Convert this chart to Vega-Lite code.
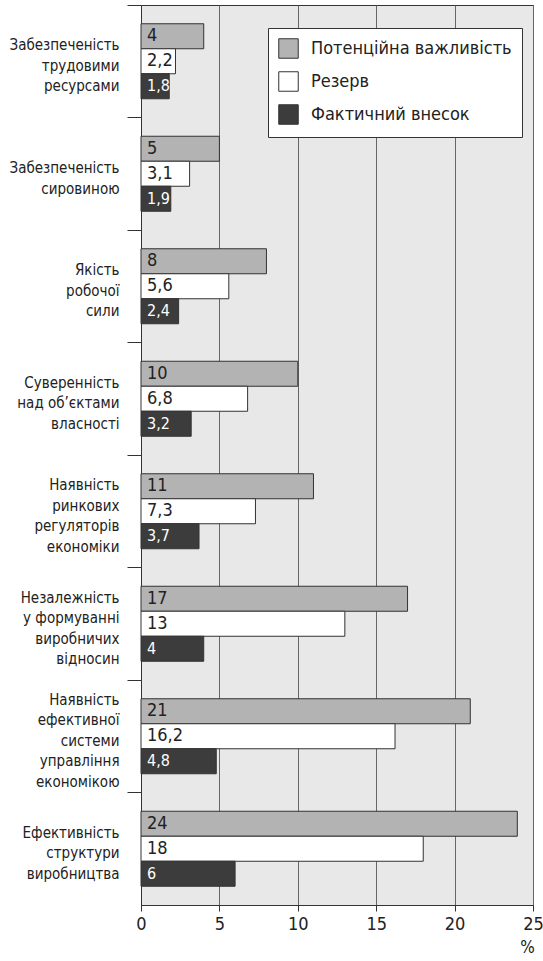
{
  "$schema": "https://vega.github.io/schema/vega-lite/v6.json",
  "width": 392,
  "height": 900,
  "autosize": {"type": "none"},
  "padding": {"left": 141, "top": 5, "right": 10, "bottom": 56},
  "background": "white",
  "config": {
    "font": "Liberation Sans Narrow, DejaVu Sans Condensed, Open Sans",
    "locale": {"number": {"decimal": ",", "thousands": " ", "grouping": [3], "currency": ["", ""]}},
    "view": {"fill": "#e8e8e8", "stroke": "#333", "strokeWidth": 1}
  },
  "data": {
    "values": [
      {"c": "Забезпеченість|трудовими|ресурсами", "s": "Потенційна важливість", "v": 4},
      {"c": "Забезпеченість|трудовими|ресурсами", "s": "Резерв", "v": 2.2},
      {"c": "Забезпеченість|трудовими|ресурсами", "s": "Фактичний внесок", "v": 1.8},
      {"c": "Забезпеченість|сировиною", "s": "Потенційна важливість", "v": 5},
      {"c": "Забезпеченість|сировиною", "s": "Резерв", "v": 3.1},
      {"c": "Забезпеченість|сировиною", "s": "Фактичний внесок", "v": 1.9},
      {"c": "Якість|робочої|сили", "s": "Потенційна важливість", "v": 8},
      {"c": "Якість|робочої|сили", "s": "Резерв", "v": 5.6},
      {"c": "Якість|робочої|сили", "s": "Фактичний внесок", "v": 2.4},
      {"c": "Суверенність|над об’єктами|власності", "s": "Потенційна важливість", "v": 10},
      {"c": "Суверенність|над об’єктами|власності", "s": "Резерв", "v": 6.8},
      {"c": "Суверенність|над об’єктами|власності", "s": "Фактичний внесок", "v": 3.2},
      {"c": "Наявність|ринкових|регуляторів|економіки", "s": "Потенційна важливість", "v": 11},
      {"c": "Наявність|ринкових|регуляторів|економіки", "s": "Резерв", "v": 7.3},
      {"c": "Наявність|ринкових|регуляторів|економіки", "s": "Фактичний внесок", "v": 3.7},
      {"c": "Незалежність|у формуванні|виробничих|відносин", "s": "Потенційна важливість", "v": 17},
      {"c": "Незалежність|у формуванні|виробничих|відносин", "s": "Резерв", "v": 13},
      {"c": "Незалежність|у формуванні|виробничих|відносин", "s": "Фактичний внесок", "v": 4},
      {"c": "Наявність|ефективної|системи|управління|економікою", "s": "Потенційна важливість", "v": 21},
      {"c": "Наявність|ефективної|системи|управління|економікою", "s": "Резерв", "v": 16.2},
      {"c": "Наявність|ефективної|системи|управління|економікою", "s": "Фактичний внесок", "v": 4.8},
      {"c": "Ефективність|структури|виробництва", "s": "Потенційна важливість", "v": 24},
      {"c": "Ефективність|структури|виробництва", "s": "Резерв", "v": 18},
      {"c": "Ефективність|структури|виробництва", "s": "Фактичний внесок", "v": 6}
    ]
  },
  "encoding": {
    "y": {
      "field": "c", "type": "nominal", "sort": null,
      "scale": {"paddingInner": 0, "paddingOuter": 0},
      "axis": {
        "title": null,
        "labelExpr": "split(datum.label, '|')",
        "labelFontSize": 15,
        "labelColor": "#222",
        "labelLineHeight": 20.5,
        "labelPadding": 8,
        "labelOffset": {"expr": "4.5 - (length(split(datum.label, '|')) - 1) * 10.25"},
        "tickSize": 14,
        "tickColor": "#333",
        "domainColor": "#333",
        "bandPosition": 0,
        "labelAlign": "right",
        "labelBaseline": "middle"
      }
    },
    "yOffset": {
      "field": "s", "type": "nominal",
      "sort": ["Потенційна важливість", "Резерв", "Фактичний внесок"],
      "scale": {"paddingInner": 0, "paddingOuter": 0.75}
    }
  },
  "layer": [
    {
      "mark": {"type": "bar", "stroke": "#333", "strokeWidth": 1},
      "encoding": {
        "x": {
          "field": "v", "type": "quantitative",
          "scale": {"domain": [0, 25], "nice": false},
          "axis": {
            "title": "%",
            "titleFontSize": 17,
            "titleFontWeight": "normal",
            "titleColor": "#222",
            "titleX": 386,
            "titleY": 42,
            "titleAlign": "center",
            "titleBaseline": "middle",
            "values": [0, 5, 10, 15, 20, 25],
            "labelFontSize": 18,
            "labelColor": "#222",
            "labelPadding": 4,
            "tickSize": 6,
            "tickColor": "#333",
            "domainColor": "#333",
            "grid": true,
            "gridColor": "#666",
            "gridWidth": 1,
            "labelFlush": false
          }
        },
        "color": {
          "field": "s", "type": "nominal",
          "sort": ["Потенційна важливість", "Резерв", "Фактичний внесок"],
          "scale": {"domain": ["Потенційна важливість", "Резерв", "Фактичний внесок"], "range": ["#b3b3b3", "#ffffff", "#3c3c3c"]},
          "legend": {
            "title": null,
            "orient": "none",
            "legendX": 127,
            "legendY": 23,
            "fillColor": "white",
            "strokeColor": "#333",
            "padding": 10,
            "symbolType": "square",
            "symbolSize": 380,
            "symbolStrokeColor": "#333",
            "symbolStrokeWidth": 1,
            "symbolOpacity": 1,
            "labelFontSize": 18,
            "labelColor": "#222",
            "labelOffset": 12,
            "rowPadding": 8,
            "labelLimit": 300
          }
        }
      }
    },
    {
      "mark": {"type": "text", "align": "left", "baseline": "middle", "dx": 6},
      "encoding": {
        "x": {"datum": 0, "type": "quantitative"},
        "text": {"field": "v", "type": "quantitative", "format": "~g"},
        "color": {
          "condition": {"test": "datum.s === 'Фактичний внесок'", "value": "#ffffff"},
          "value": "#222"
        },
        "fontWeight": {
          "condition": {"test": "datum.s === 'Фактичний внесок'", "value": "bold"},
          "value": "normal"
        },
        "size": {
          "condition": {"test": "datum.s === 'Фактичний внесок'", "value": 16},
          "value": 18
        }
      }
    }
  ]
}
